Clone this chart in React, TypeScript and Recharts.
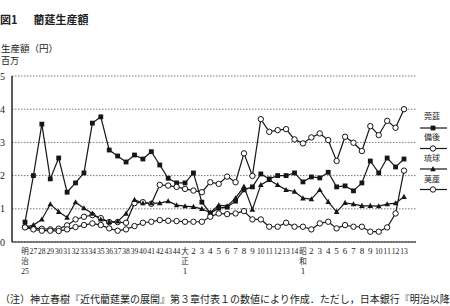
import { LineChart, Line, XAxis, YAxis, CartesianGrid } from 'recharts';

// 年次ラベル（明治25〜昭和13、明治26は欠）
const periods = [
  '明治25', '27', '28', '29', '30', '31', '32', '33', '34', '35', '36', '37', '38', '39', '40', '41', '42', '43', '44',
  '大正1', '2', '3', '4', '5', '6', '7', '8', '9', '10', '11', '12', '13', '14',
  '昭和1', '2', '3', '4', '5', '6', '7', '8', '9', '10', '11', '12', '13',
];

// 生産額（百万円）
const kanen = [
  0.6, 2.0, 3.55, 1.9, 2.53, 1.5, 1.78, 2.08, 3.58, 3.77, 2.77, 2.59, 2.41, 2.62, 2.5, 2.72, 2.32, 1.92, 1.78,
  1.78, 2.08, 1.2, 0.87, 1.02, 1.05, 1.23, 1.57, 1.66, 2.05, 1.9, 2.0, 2.0, 2.08,
  1.81, 1.96, 1.93, 2.1, 1.66, 1.69, 1.54, 1.78, 2.44, 2.08, 2.53, 2.26, 2.5,
];
const bingo = [
  0.45, 0.42, 0.4, 0.38, 0.4, 0.5, 0.68, 0.76, 0.81, 0.72, 0.6, 0.6, 0.58, 1.17, 1.2, 1.15, 1.72, 1.7, 1.66,
  1.6, 1.55, 1.5, 1.8, 1.75, 1.97, 1.8, 2.67, 1.99, 3.7, 3.32, 3.37, 3.4, 3.09,
  2.97, 3.15, 3.27, 3.07, 2.44, 3.17, 2.99, 2.74, 3.49, 3.22, 3.65, 3.44, 4.0,
];
const ryukyu = [
  0.45, 0.51, 0.68, 1.14, 0.91, 0.74, 1.2, 1.02, 0.86, 0.68, 0.61, 0.62, 0.86, 1.27, 1.17, 1.17, 1.17, 1.23, 1.11,
  1.08, 1.06, 1.0, 0.88, 1.11, 1.08, 1.32, 1.67, 0.98, 1.72, 1.87, 1.72, 1.57, 1.52,
  1.32, 1.29, 1.57, 1.21, 0.91, 1.18, 1.14, 1.09, 1.09, 1.08, 1.14, 1.17, 1.36,
];
const goza = [
  0.44, 0.38, 0.34, 0.34, 0.33, 0.38, 0.45, 0.51, 0.56, 0.51, 0.41, 0.34, 0.38, 0.48, 0.58, 0.61, 0.66, 0.64, 0.63,
  0.61, 0.61, 0.61, 0.76, 0.86, 0.84, 0.86, 0.93, 0.68, 0.68, 0.46, 0.46, 0.58, 0.46,
  0.46, 0.38, 0.56, 0.61, 0.41, 0.51, 0.46, 0.46, 0.31, 0.31, 0.44, 0.86, 2.15,
];

const yTicks = [0, 1, 2, 3, 4, 5];
const seriesKeys = ['kanen', 'bingo', 'ryukyu', 'goza'];
const seriesNames = ['莞莚', '備後', '琉球', '茣蓙'];
const seriesMarks = ['square', 'circle', 'triangle', 'circle'];

const data = periods.map((p, i) => ({
  period: p,
  kanen: kanen[i],
  bingo: bingo[i],
  ryukyu: ryukyu[i],
  goza: goza[i],
}));

const INK = '#161616';
const SERIF = '"Liberation Serif", "DejaVu Serif", serif';
const CJK = '"Noto Sans CJK JP", sans-serif';

function Marker({ kind, cx, cy }: { kind: string; cx: number; cy: number }) {
  if (kind === 'square') {
    return <rect x={cx - 2.4} y={cy - 2.4} width={4.8} height={4.8} fill={INK} />;
  }
  if (kind === 'triangle') {
    return <polygon points={`${cx},${cy - 3} ${cx - 2.8},${cy + 2.2} ${cx + 2.8},${cy + 2.2}`} fill={INK} />;
  }
  return <circle cx={cx} cy={cy} r={2.7} fill="#fff" stroke={INK} strokeWidth={1} />;
}

const makeDot = (kind: string) => (props: any) => {
  const { cx, cy, index } = props;
  if (cx == null || cy == null) return <g key={index} />;
  return (
    <g key={index}>
      <Marker kind={kind} cx={cx} cy={cy} />
    </g>
  );
};

function PeriodTick({ x, y, payload }: any) {
  const v = String(payload.value);
  const lines = /^[明大昭]/.test(v) ? [v[0], v[1], v.slice(2)] : [v];
  return (
    <g>
      {lines.map((t, i) => (
        <text
          key={i}
          x={x}
          y={y + 12 + i * 10}
          textAnchor="middle"
          fontSize={/[0-9]/.test(t) ? 9 : 7.5}
          fontFamily={/[0-9]/.test(t) ? SERIF : CJK}
          fill="#222"
          {...(t.length === 2 && /[0-9]{2}/.test(t) ? { textLength: 7.6, lengthAdjust: 'spacingAndGlyphs' } : {})}
        >
          {t}
        </text>
      ))}
    </g>
  );
}

function LegendBox() {
  const rows = [0, 1, 2, 3];
  return (
    <svg width={34} height={100} style={{ position: 'absolute', left: 416, top: 100 }}>
      {rows.map((i) => {
        const ty = 19 + i * 21;
        const ly = 28 + i * 20.5;
        return (
          <g key={i}>
            <text x={16} y={ty} textAnchor="middle" fontSize={8} fontFamily={CJK} fill="#222">
              {seriesNames[i]}
            </text>
            <line x1={4} x2={31} y1={ly} y2={ly} stroke={INK} strokeWidth={1.2} />
            <Marker kind={seriesMarks[i]} cx={17} cy={ly} />
          </g>
        );
      })}
    </svg>
  );
}

export default function App() {
  return (
    <div
      style={{
        position: 'absolute',
        left: 0,
        top: 0,
        width: 450,
        height: 306,
        overflow: 'hidden',
        background: '#fff',
        color: '#222',
      }}
    >
      <div style={{ position: 'absolute', left: 0, top: 12, fontSize: 11, fontWeight: 'bold', fontFamily: CJK, whiteSpace: 'nowrap', lineHeight: '14px' }}>
        図1<span style={{ marginLeft: 16 }}>藺莚生産額</span>
      </div>
      <div style={{ position: 'absolute', left: 1, top: 43, fontSize: 9.5, fontFamily: CJK, whiteSpace: 'nowrap', lineHeight: '11px' }}>
        生産額（円）
      </div>
      <div style={{ position: 'absolute', left: 1, top: 56, fontSize: 9, fontFamily: CJK, whiteSpace: 'nowrap', lineHeight: '10px' }}>
        百万
      </div>

      <div style={{ position: 'absolute', left: 0, top: 0 }}>
        <LineChart width={450} height={306} data={data} margin={{ top: 76, right: 34, bottom: 34, left: 0 }}>
          <CartesianGrid vertical={false} stroke="#555" strokeWidth={0.8} strokeDasharray="1.5 1.5" />
          <XAxis
            dataKey="period"
            interval={0}
            height={30}
            padding={{ left: 13, right: 12 }}
            tickSize={0}
            tickMargin={0}
            tickLine={false}
            axisLine={{ stroke: INK, strokeWidth: 1.2 }}
            tick={<PeriodTick />}
          />
          <XAxis xAxisId="top" orientation="top" height={0} tick={false} tickLine={false} axisLine={{ stroke: '#333', strokeWidth: 1 }} />
          <YAxis
            domain={[0, 5]}
            ticks={yTicks}
            width={12}
            tickSize={0}
            tickMargin={7}
            tickLine={false}
            axisLine={{ stroke: INK, strokeWidth: 1.4 }}
            tick={{ fontSize: 10, fill: '#222', fontFamily: SERIF }}
          />
          <YAxis yAxisId="right" orientation="right" width={0} tick={false} tickLine={false} axisLine={{ stroke: '#333', strokeWidth: 1.2 }} />
          {seriesKeys.map((k, i) => (
            <Line
              key={k}
              type="linear"
              dataKey={k}
              name={seriesNames[i]}
              stroke={INK}
              strokeWidth={1.2}
              dot={makeDot(seriesMarks[i])}
              activeDot={false}
              isAnimationActive={false}
            />
          ))}
        </LineChart>
      </div>

      <LegendBox />

      <div style={{ position: 'absolute', left: 0, top: 292, fontSize: 10, fontFamily: CJK, whiteSpace: 'nowrap', lineHeight: '13px' }}>
        （注）神立春樹『近代藺莚業の展開』第３章付表１の数値により作成．ただし，日本銀行『明治以降
      </div>
    </div>
  );
}
